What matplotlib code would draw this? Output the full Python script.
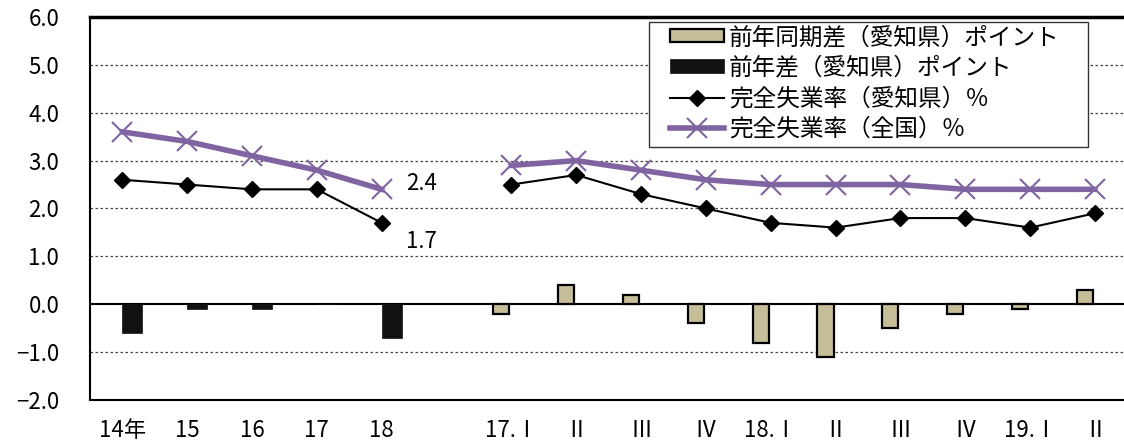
import numpy as np
import matplotlib.pyplot as plt
from matplotlib.patches import Rectangle

plt.rcParams['font.family'] = ['Noto Sans CJK JP', 'DejaVu Sans']

# categories (blank slot separates annual and quarterly)
labels = ["14年", "15", "16", "17", "18", "",
          "17.Ⅰ", "Ⅱ", "Ⅲ", "Ⅳ", "18.Ⅰ", "Ⅱ", "Ⅲ", "Ⅳ", "19.Ⅰ", "Ⅱ"]
nan = np.nan
diff_year = [-0.6, -0.1, -0.1, 0.0, -0.7, nan,
             nan, nan, nan, nan, nan, nan, nan, nan, nan, nan]
diff_quarter = [nan, nan, nan, nan, nan, nan,
                -0.2, 0.4, 0.2, -0.4, -0.8, -1.1, -0.5, -0.2, -0.1, 0.3]
rate_aichi = [2.6, 2.5, 2.4, 2.4, 1.7, nan,
              2.5, 2.7, 2.3, 2.0, 1.7, 1.6, 1.8, 1.8, 1.6, 1.9]
rate_japan = [3.6, 3.4, 3.1, 2.8, 2.4, nan,
              2.9, 3.0, 2.8, 2.6, 2.5, 2.5, 2.5, 2.4, 2.4, 2.4]

x = np.arange(len(labels))
bw = 0.31  # clustered bars, two series side by side

fig = plt.figure(figsize=(11.24, 4.41), dpi=100)
# plot area runs just past the right edge of the image, as in the original
ax = fig.add_axes([0.080, 0.093, 0.923, 0.8685])

for yv in [-1, 1, 2, 3, 4, 5]:
    ax.axhline(yv, color="#444444", lw=0.9, ls=(0, (2, 2)), zorder=0)
ax.axhline(0, color="black", lw=1.5, zorder=1)

b1 = ax.bar(x - bw / 2, diff_quarter, width=bw * 0.8, color="#C6BE98",
            edgecolor="black", lw=1.6, zorder=2, label="前年同期差（愛知県）ポイント")
b2 = ax.bar(x + bw / 2, diff_year, width=bw, color="#111111", edgecolor="#111111",
            lw=0.5, zorder=2, label="前年差（愛知県）ポイント")
l1, = ax.plot(x, rate_aichi, color="black", lw=1.5, marker="D", ms=8,
              zorder=3, label="完全失業率（愛知県）％")
l2, = ax.plot(x, rate_japan, color="#8064A2", lw=4, marker="x", ms=14, mew=1.5,
              zorder=4, label="完全失業率（全国）％")

ax.text(4.38, 2.53, "2.4", fontsize=16, va="center")
ax.text(4.38, 1.32, "1.7", fontsize=16, va="center")

ax.set_xlim(-0.5, len(labels) - 0.5)
ax.set_ylim(-2, 6)
ax.set_yticks(np.arange(-2, 7, 1))
ax.set_yticklabels([f"{v:.1f}".replace("-", "−") for v in np.arange(-2, 7, 1)],
                   fontsize=16)
ax.set_xticks(x)
ax.set_xticklabels(labels, fontsize=16)
ax.tick_params(axis="x", length=0, pad=14)
ax.tick_params(axis="y", length=0, pad=22)
ax.spines["right"].set_visible(False)
for side in ["left", "bottom"]:
    ax.spines[side].set_linewidth(1.5)
ax.spines["top"].set_linewidth(2.5)

# legend box drawn by hand, legend itself without frame
box = Rectangle((649 / 1124, 1 - 147 / 441), 439 / 1124, 125 / 441,
                transform=fig.transFigure, facecolor="white", edgecolor="#333333",
                lw=1.0, zorder=6)
ax.add_patch(box)
leg = ax.legend([b1, b2, l1, l2],
                [b1.get_label(), b2.get_label(), l1.get_label(), l2.get_label()],
                loc="upper left", bbox_to_anchor=(670 / 1124, 1 - 26 / 441),
                bbox_transform=fig.transFigure, fontsize=17, frameon=False,
                borderpad=0, borderaxespad=0, labelspacing=0.32,
                handlelength=2.3, handleheight=0.5, handletextpad=0.2)
leg.set_zorder(7)

fig.savefig("out.png", dpi=100)
